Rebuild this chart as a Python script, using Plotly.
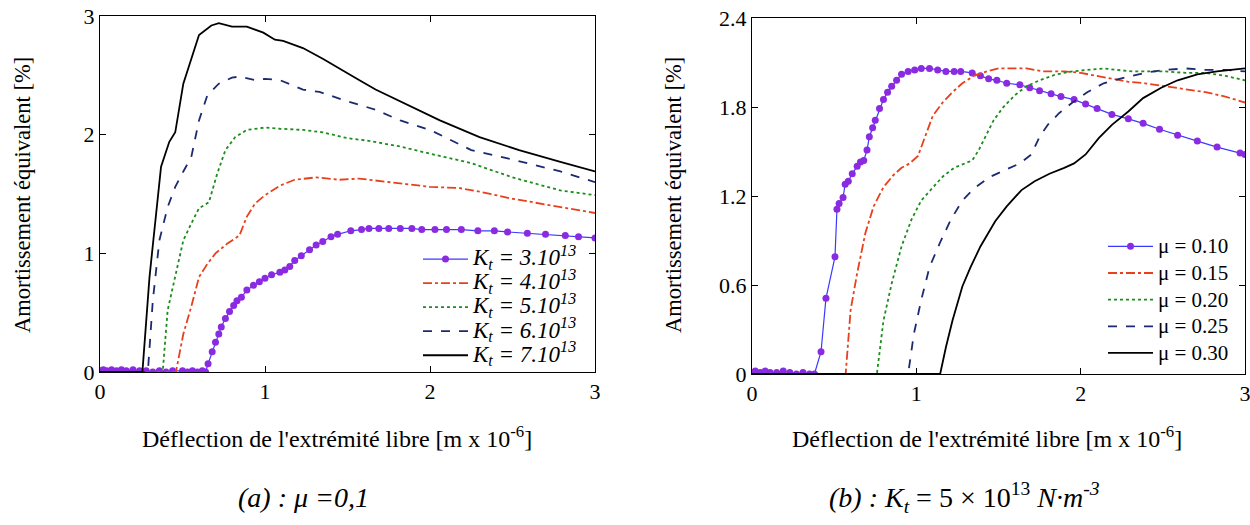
import plotly.graph_objects as go

# ---------------- Panel (a): mu = 0.1, varying Kt ----------------
kt_labels = ["3", "4", "5", "6", "7"]

a_x3 = [0.0, 0.02, 0.04, 0.07, 0.10, 0.13, 0.16, 0.20, 0.24, 0.28, 0.32, 0.36, 0.40, 0.44, 0.50, 0.53,
        0.56, 0.59, 0.62, 0.64, 0.655, 0.68, 0.70, 0.72, 0.735, 0.76, 0.785, 0.81, 0.83, 0.857, 0.89,
        0.93, 0.966, 1.0, 1.04, 1.09, 1.12, 1.15, 1.18, 1.22, 1.27, 1.31, 1.35, 1.40, 1.44, 1.52,
        1.585, 1.63, 1.69, 1.75, 1.82, 1.89, 1.95, 2.03, 2.10, 2.19, 2.29, 2.39, 2.47, 2.59, 2.70,
        2.82, 2.90, 3.0]
a_y3 = [0.01, 0.02, 0.01, 0.02, 0.01, 0.02, 0.01, 0.02, 0.01, 0.01, 0.0, 0.01, 0.0, 0.01, 0.01, 0.0,
        0.01, 0.0, 0.01, 0.0, 0.07, 0.17, 0.25, 0.32, 0.38, 0.45, 0.51, 0.56, 0.60, 0.63, 0.69,
        0.73, 0.76, 0.79, 0.82, 0.84, 0.86, 0.89, 0.94, 0.98, 1.03, 1.07, 1.10, 1.14, 1.16, 1.19,
        1.20, 1.21, 1.21, 1.21, 1.21, 1.21, 1.20, 1.20, 1.20, 1.20, 1.19, 1.19, 1.18, 1.17, 1.16,
        1.15, 1.14, 1.13]

a_x4 = [0.0, 0.1, 0.2, 0.3, 0.40, 0.46, 0.505, 0.553, 0.60, 0.65, 0.70, 0.77, 0.845, 0.89, 0.94, 1.0,
        1.09, 1.18, 1.31, 1.38, 1.45, 1.57, 1.82, 2.0, 2.18, 2.30, 2.50, 2.79, 3.0]
a_y4 = [0.0, 0.0, 0.0, 0.0, 0.0, 0.0, 0.32, 0.55, 0.80, 0.91, 1.00, 1.08, 1.15, 1.31, 1.42, 1.49,
        1.57, 1.62, 1.64, 1.63, 1.62, 1.63, 1.59, 1.56, 1.55, 1.52, 1.46, 1.39, 1.34]

a_x5 = [0.0, 0.1, 0.2, 0.3, 0.38, 0.41, 0.456, 0.505, 0.553, 0.60, 0.66, 0.71, 0.76, 0.82, 0.89, 1.0,
        1.09, 1.23, 1.35, 1.50, 1.62, 1.82, 2.0, 2.25, 2.50, 2.79, 3.0]
a_y5 = [0.0, 0.0, 0.0, 0.0, 0.0, 0.52, 0.80, 1.11, 1.25, 1.38, 1.43, 1.67, 1.87, 1.98, 2.04, 2.06,
        2.05, 2.04, 2.02, 1.97, 1.95, 1.90, 1.84, 1.76, 1.64, 1.53, 1.49]

a_x6 = [0.0, 0.1, 0.2, 0.29, 0.32, 0.36, 0.41, 0.456, 0.505, 0.553, 0.60, 0.65, 0.72, 0.80, 0.845, 0.94,
        1.0, 1.09, 1.23, 1.33, 1.48, 1.67, 1.82, 2.0, 2.25, 2.50, 2.79, 3.0]
a_y6 = [0.0, 0.0, 0.0, 0.0, 0.60, 1.11, 1.39, 1.56, 1.69, 1.81, 2.12, 2.33, 2.43, 2.48, 2.49, 2.46,
        2.47, 2.46, 2.38, 2.36, 2.29, 2.21, 2.12, 2.04, 1.87, 1.79, 1.69, 1.60]

a_x7 = [0.0, 0.1, 0.2, 0.257, 0.30, 0.37, 0.42, 0.456, 0.505, 0.565, 0.60, 0.675, 0.72, 0.80, 0.89, 0.99,
        1.06, 1.11, 1.23, 1.35, 1.48, 1.57, 1.67, 1.82, 1.96, 2.06, 2.30, 2.54, 2.79, 3.0]
a_y7 = [0.0, 0.0, 0.0, 0.0, 0.80, 1.73, 1.94, 2.02, 2.43, 2.70, 2.84, 2.92, 2.94, 2.91, 2.91, 2.86,
        2.80, 2.79, 2.73, 2.64, 2.53, 2.46, 2.38, 2.28, 2.18, 2.12, 1.98, 1.87, 1.77, 1.69]

# ---------------- Panel (b): Kt = 5e13, varying mu ----------------
mu_labels = ["0.10", "0.15", "0.20", "0.25", "0.30"]

b_x10 = [0.0, 0.02, 0.05, 0.08, 0.11, 0.15, 0.19, 0.23, 0.27, 0.31, 0.35, 0.38, 0.42, 0.45, 0.505,
         0.517, 0.53, 0.554, 0.567, 0.586, 0.61, 0.64, 0.66, 0.68, 0.70, 0.714, 0.734, 0.75, 0.776,
         0.80, 0.825, 0.85, 0.88, 0.91, 0.95, 0.99, 1.03, 1.08, 1.13, 1.18, 1.23, 1.27, 1.34, 1.39,
         1.44, 1.49, 1.55, 1.63, 1.69, 1.75, 1.82, 1.88, 1.96, 2.03, 2.10, 2.19, 2.29, 2.38, 2.48,
         2.59, 2.71, 2.83, 2.97, 3.0]
b_y10 = [0.01, 0.02, 0.01, 0.02, 0.01, 0.01, 0.02, 0.01, 0.0, 0.01, 0.0, 0.0, 0.15, 0.51, 0.79,
         1.11, 1.15, 1.19, 1.28, 1.30, 1.35, 1.40, 1.43, 1.44, 1.51, 1.60, 1.66, 1.71, 1.79,
         1.85, 1.90, 1.94, 1.98, 2.02, 2.04, 2.05, 2.06, 2.06, 2.05, 2.04, 2.04, 2.04, 2.03, 2.01,
         1.99, 1.98, 1.96, 1.95, 1.93, 1.91, 1.89, 1.87, 1.85, 1.82, 1.79, 1.75, 1.72, 1.69, 1.65,
         1.61, 1.57, 1.53, 1.49, 1.48]

b_x15 = [0.0, 0.2, 0.4, 0.57, 0.60, 0.64, 0.69, 0.74, 0.80, 0.86, 0.91, 0.96, 1.01, 1.06, 1.10, 1.16,
         1.22, 1.28, 1.35, 1.43, 1.50, 1.60, 1.67, 1.77, 1.90, 2.0, 2.09, 2.19, 2.29, 2.39, 2.51,
         2.64, 2.76, 2.88, 3.0]
b_y15 = [0.0, 0.0, 0.0, 0.0, 0.43, 0.68, 0.95, 1.13, 1.26, 1.34, 1.39, 1.42, 1.47, 1.62, 1.74, 1.83,
         1.90, 1.96, 2.01, 2.04, 2.06, 2.06, 2.06, 2.04, 2.04, 2.03, 2.01, 1.99, 1.97, 1.96, 1.94,
         1.92, 1.90, 1.87, 1.83]

b_x20 = [0.0, 0.25, 0.5, 0.76, 0.80, 0.85, 0.91, 0.97, 1.03, 1.10, 1.16, 1.23, 1.30, 1.34, 1.38, 1.42,
         1.47, 1.53, 1.60, 1.67, 1.75, 1.85, 1.95, 2.04, 2.14, 2.22, 2.32, 2.39, 2.51, 2.64, 2.76,
         2.88, 3.0]
b_y20 = [0.0, 0.0, 0.0, 0.0, 0.36, 0.61, 0.86, 1.04, 1.17, 1.26, 1.33, 1.39, 1.42, 1.44, 1.51, 1.60,
         1.71, 1.80, 1.88, 1.94, 1.98, 2.02, 2.04, 2.05, 2.06, 2.05, 2.04, 2.04, 2.04, 2.03, 2.03,
         2.01, 1.98]

b_x25 = [0.0, 0.3, 0.6, 0.95, 0.985, 1.03, 1.08, 1.15, 1.21, 1.28, 1.35, 1.45, 1.55, 1.63, 1.70, 1.75,
         1.80, 1.87, 1.95, 2.04, 2.14, 2.27, 2.39, 2.51, 2.64, 2.76, 2.88, 3.0]
b_y25 = [0.0, 0.0, 0.0, 0.0, 0.27, 0.50, 0.72, 0.90, 1.04, 1.17, 1.25, 1.33, 1.38, 1.42, 1.48, 1.60,
         1.68, 1.76, 1.83, 1.90, 1.96, 2.00, 2.03, 2.05, 2.06, 2.05, 2.05, 2.04]

b_x30 = [0.0, 0.3, 0.6, 0.9, 1.145, 1.18, 1.22, 1.28, 1.33, 1.39, 1.48, 1.55, 1.64, 1.72, 1.81, 1.90,
         1.96, 2.03, 2.11, 2.19, 2.29, 2.38, 2.49, 2.59, 2.71, 2.83, 3.0]
b_y30 = [0.0, 0.0, 0.005, 0.005, 0.0, 0.18, 0.36, 0.59, 0.72, 0.86, 1.03, 1.13, 1.24, 1.30, 1.35, 1.39,
         1.42, 1.48, 1.59, 1.68, 1.77, 1.86, 1.93, 1.98, 2.02, 2.04, 2.06]

# ---------------- styles ----------------
FONT = "'Liberation Serif', 'Times New Roman', serif"
BLUE = "#3a3aff"
PURPLE = "#8a2be2"
RED = "#e8401c"
GREEN = "#1c8c1c"
NAVY = "#1c2a70"
BLACK = "#000000"

fig = go.Figure()

series_a = [
    (a_x3, a_y3, BLUE, "solid", True),
    (a_x4, a_y4, RED, "dashdot", False),
    (a_x5, a_y5, GREEN, "dot", False),
    (a_x6, a_y6, NAVY, "dash", False),
    (a_x7, a_y7, BLACK, "solid", False),
]
for (xs, ys, col, dash, mk), lab in zip(series_a, kt_labels):
    fig.add_trace(go.Scatter(
        x=xs, y=ys, xaxis="x", yaxis="y", legend="legend",
        mode="lines+markers" if mk else "lines",
        line=dict(color=col, dash=dash, width=1.2 if mk else 1.8),
        marker=dict(color=PURPLE, size=7) if mk else None,
        name='<span style="font-size:23px"><i>K<sub>t</sub> = ' + lab + ".10<sup>13</sup></i></span>",
    ))

series_b = [
    (b_x10, b_y10, BLUE, "solid", True),
    (b_x15, b_y15, RED, "dashdot", False),
    (b_x20, b_y20, GREEN, "dot", False),
    (b_x25, b_y25, NAVY, "dash", False),
    (b_x30, b_y30, BLACK, "solid", False),
]
for (xs, ys, col, dash, mk), lab in zip(series_b, mu_labels):
    fig.add_trace(go.Scatter(
        x=xs, y=ys, xaxis="x2", yaxis="y2", legend="legend2",
        mode="lines+markers" if mk else "lines",
        line=dict(color=col, dash=dash, width=1.2 if mk else 1.8),
        marker=dict(color=PURPLE, size=7) if mk else None,
        name='<span style="font-size:21px">μ = ' + lab + "</span>",
    ))

axis_common = dict(
    showline=True, linecolor="black", linewidth=1, mirror="ticks", automargin=False,
    ticks="inside", ticklen=6, tickcolor="black", showgrid=False, zeroline=False,
    ticklabeloverflow="allow",
    tickfont=dict(family=FONT, size=22, color="black"),
)

W, H = 1250, 525
def px_x(p):
    return p / W
def px_y(p):
    return 1 - p / H

fig.update_layout(
    width=W, height=H,
    margin=dict(l=0, r=0, t=0, b=0, autoexpand=False),
    paper_bgcolor="white", plot_bgcolor="white",
    font=dict(family=FONT, color="black"),
    xaxis=dict(domain=[px_x(100), px_x(595)], range=[0, 3], tickvals=[0, 1, 2, 3], anchor="y", **axis_common),
    yaxis=dict(domain=[px_y(372), px_y(16)], range=[0, 3], tickvals=[0, 1, 2, 3], anchor="x", **axis_common),
    xaxis2=dict(domain=[px_x(752), px_x(1245)], range=[0, 3], tickvals=[0, 1, 2, 3], anchor="y2", **axis_common),
    yaxis2=dict(domain=[px_y(374), px_y(18)], range=[0, 2.4], tickvals=[0, 0.6, 1.2, 1.8, 2.4],
                ticktext=["0", "0.6", "1.2", "1.8", "2.4"], anchor="x2", **axis_common),
    legend=dict(x=px_x(418), y=px_y(242), xanchor="left", yanchor="top", bgcolor="rgba(0,0,0,0)",
                font=dict(family=FONT, size=16.2, color="black"), tracegroupgap=0, itemwidth=45),
    legend2=dict(x=px_x(1103), y=px_y(228), xanchor="left", yanchor="top", bgcolor="rgba(0,0,0,0)",
                 font=dict(family=FONT, size=18.2, color="black"), tracegroupgap=0, itemwidth=45),
    showlegend=True,
)

title_font = dict(family=FONT, size=24, color="black")
ytitle_font = dict(family=FONT, size=22.5, color="black")
cap_font = dict(family=FONT, size=28, color="black")
ann = [
    dict(text="Amortissement équivalent [%]", x=px_x(22), y=px_y(195), textangle=-90, font=ytitle_font),
    dict(text="Amortissement équivalent [%]", x=px_x(673), y=px_y(195), textangle=-90, font=ytitle_font),
    dict(text="Déflection de l'extrémité libre [m x 10<sup>-6</sup>]", x=px_x(337), y=px_y(437), font=title_font),
    dict(text="Déflection de l'extrémité libre [m x 10<sup>-6</sup>]", x=px_x(987), y=px_y(437), font=title_font),
    dict(text="<i>(a) : μ =0,1</i>", x=px_x(303), y=px_y(497), font=cap_font),
    dict(text="<i>(b) : K<sub>t</sub></i> = 5 × 10<sup>13</sup> <i>N·m<sup>-3</sup></i>",
         x=px_x(964), y=px_y(497), font=cap_font),
]
for a in ann:
    a.update(xref="paper", yref="paper", showarrow=False, xanchor="center", yanchor="middle")
fig.update_layout(annotations=ann)

fig.write_html("out.html", config={"displayModeBar": False},
               post_script="document.body.style.margin='0px';")
